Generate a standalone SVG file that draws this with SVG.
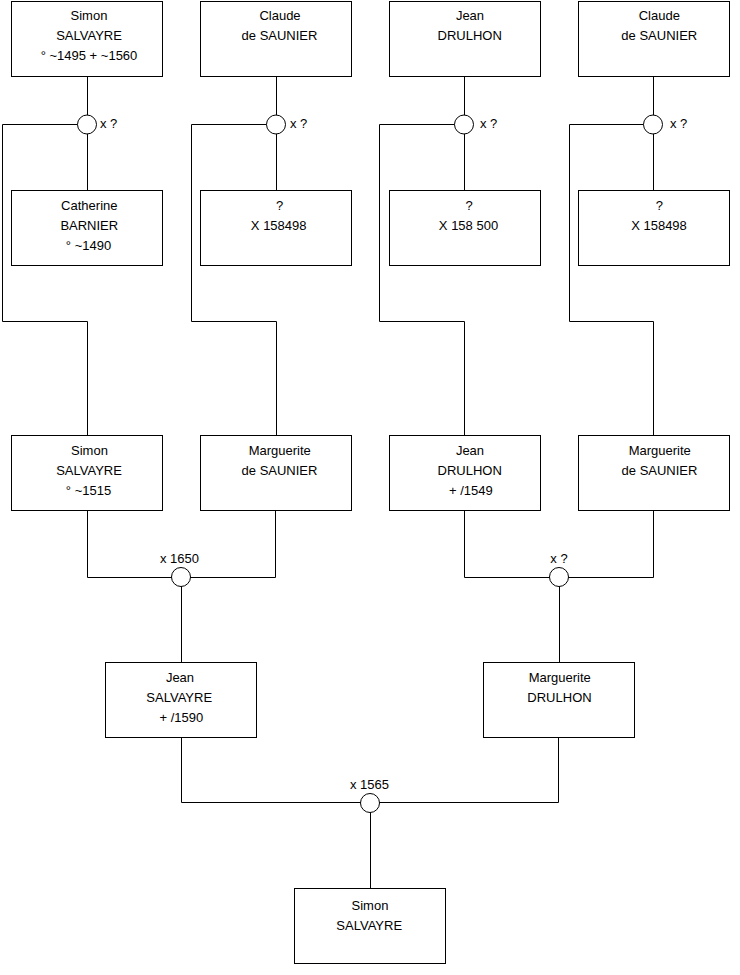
<svg xmlns="http://www.w3.org/2000/svg" width="740" height="975" viewBox="0 0 740 975">
<style>
.box{fill:#fff;stroke:#000;stroke-width:1}
.ln{fill:none;stroke:#000;stroke-width:1}
.ring{fill:#fff;stroke:#000;stroke-width:1}
text{font-family:"Liberation Sans",Arial,sans-serif;font-size:13px;fill:#000;text-anchor:middle}
.lab{text-anchor:start}
</style>
<rect width="740" height="975" fill="#fff"/>
<g id="connectors">
<path class="ln" d="M87.5,76 V190 M87.5,124.5 H2.5 V321.5 H87.5 V435"/>
<path class="ln" d="M276.5,76 V190 M276.5,124.5 H191.5 V321.5 H276.5 V435"/>
<path class="ln" d="M464.5,76 V190 M464.5,124.5 H379.5 V321.5 H464.5 V435"/>
<path class="ln" d="M653.5,76 V190 M653.5,124.5 H569.5 V321.5 H653.5 V435"/>
<path class="ln" d="M87.5,510 V577.5 H275.5 V510 M181.5,577.5 V662"/>
<path class="ln" d="M464.5,510 V577.5 H653.5 V510 M559.5,577.5 V662"/>
<path class="ln" d="M181.5,737 V802.5 H558.5 V737 M370.5,802.5 V888"/>
<circle class="ring" cx="87" cy="124.5" r="9.5"/>
<circle class="ring" cx="276" cy="124.5" r="9.5"/>
<circle class="ring" cx="464" cy="124.5" r="9.5"/>
<circle class="ring" cx="653" cy="124.5" r="9.5"/>
<circle class="ring" cx="181" cy="577" r="9.5"/>
<circle class="ring" cx="559" cy="577" r="9.5"/>
<circle class="ring" cx="370" cy="803" r="9.5"/>
<text class="lab" x="100" y="128">x ?</text>
<text class="lab" x="290" y="128">x ?</text>
<text class="lab" x="480" y="128">x ?</text>
<text class="lab" x="670" y="128">x ?</text>
<text x="179.5" y="563">x 1650</text>
<text x="559" y="563">x ?</text>
<text x="369.5" y="789">x 1565</text>
</g>
<g id="n1"><rect class="box" x="11.5" y="1.5" width="151" height="75"/>
<text x="89" y="20">Simon</text><text x="89" y="40">SALVAYRE</text><text x="89" y="60">° ~1495 + ~1560</text></g>
<g id="n2"><rect class="box" x="200.5" y="1.5" width="151" height="75"/>
<text x="280" y="20">Claude</text><text x="279.5" y="40">de SAUNIER</text></g>
<g id="n3"><rect class="box" x="389.5" y="1.5" width="151" height="75"/>
<text x="470" y="20">Jean</text><text x="469.7" y="40">DRULHON</text></g>
<g id="n4"><rect class="box" x="578.5" y="1.5" width="151" height="75"/>
<text x="659.3" y="20">Claude</text><text x="659.3" y="40">de SAUNIER</text></g>
<g id="n5"><rect class="box" x="11.5" y="190.5" width="151" height="75"/>
<text x="89.3" y="210">Catherine</text><text x="89.3" y="230">BARNIER</text><text x="88.5" y="250">° ~1490</text></g>
<g id="n6"><rect class="box" x="200.5" y="190.5" width="151" height="75"/>
<text x="279.5" y="210">?</text><text x="278.7" y="230">X 158498</text></g>
<g id="n7"><rect class="box" x="389.5" y="190.5" width="151" height="75"/>
<text x="469" y="210">?</text><text x="468.5" y="230">X 158 500</text></g>
<g id="n8"><rect class="box" x="578.5" y="190.5" width="151" height="75"/>
<text x="659.3" y="210">?</text><text x="659" y="230">X 158498</text></g>
<g id="n9"><rect class="box" x="11.5" y="435.5" width="151" height="75"/>
<text x="89.5" y="455">Simon</text><text x="89" y="475">SALVAYRE</text><text x="88.5" y="495">° ~1515</text></g>
<g id="n10"><rect class="box" x="200.5" y="435.5" width="151" height="75"/>
<text x="279.7" y="455">Marguerite</text><text x="279.5" y="475">de SAUNIER</text></g>
<g id="n11"><rect class="box" x="389.5" y="435.5" width="151" height="75"/>
<text x="470" y="455">Jean</text><text x="469.7" y="475">DRULHON</text><text x="470.8" y="495">+ /1549</text></g>
<g id="n12"><rect class="box" x="578.5" y="435.5" width="151" height="75"/>
<text x="659.7" y="455">Marguerite</text><text x="659.5" y="475">de SAUNIER</text></g>
<g id="n13"><rect class="box" x="105.5" y="662.5" width="151" height="75"/>
<text x="180" y="682">Jean</text><text x="179.2" y="702">SALVAYRE</text><text x="181.3" y="722">+ /1590</text></g>
<g id="n14"><rect class="box" x="483.5" y="662.5" width="151" height="75"/>
<text x="559.7" y="682">Marguerite</text><text x="559.5" y="702">DRULHON</text></g>
<g id="n15"><rect class="box" x="294.5" y="888.5" width="151" height="75"/>
<text x="370" y="910">Simon</text><text x="369.2" y="930">SALVAYRE</text></g>
</svg>
